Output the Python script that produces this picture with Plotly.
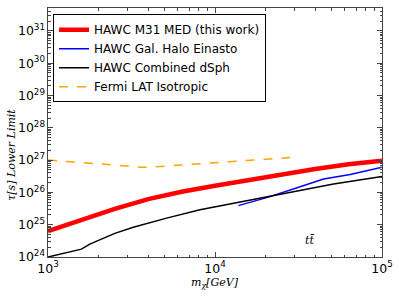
import plotly.graph_objects as go

m31_mass = [1000, 1585, 2512, 3981, 6310, 10000, 15850, 25120, 39810, 63100, 100000]
m31_tau = [6.3e24, 1.4e25, 3.1e25, 6.2e25, 1.05e26, 1.6e26, 2.4e26, 3.6e26, 5.3e26, 7.4e26, 9.6e26]

dsph_mass = [1000, 1585, 1780, 2050, 2512, 3240, 5130, 8130, 12880, 20420, 32360, 51290, 100000]
dsph_tau = [1.0e24, 1.75e24, 2.5e24, 3.5e24, 5.4e24, 8.3e24, 1.6e25, 2.9e25, 4.6e25, 7.4e25, 1.18e26, 1.82e26, 3.1e26]

halo_mass = [13800, 20420, 32360, 44670, 64570, 100000]
halo_tau = [3.9e25, 6.9e25, 1.5e26, 2.6e26, 3.6e26, 6.0e26]

fermi_mass = [1000, 1260, 1585, 2000, 2512, 3162, 3548, 3981, 5012, 6310, 7943, 10000, 12590, 15850, 19950, 25120, 28180]
fermi_tau = [1.0e27, 9.3e26, 8.5e26, 7.7e26, 7.0e26, 6.3e26, 6.0e26, 6.0e26, 6.5e26, 7.1e26, 7.7e26,
             8.3e26, 8.9e26, 9.6e26, 1.05e27, 1.15e27, 1.2e27]

font = "DejaVu Sans"
serif = "DejaVu Serif"
fig = go.Figure()
fig.add_trace(go.Scatter(x=m31_mass, y=m31_tau, mode="lines", name="HAWC M31 MED (this work)",
                         line=dict(color="#ff0000", width=4.5)))
fig.add_trace(go.Scatter(x=halo_mass, y=halo_tau, mode="lines", name="HAWC Gal. Halo Einasto",
                         line=dict(color="#0000ff", width=1.5)))
fig.add_trace(go.Scatter(x=dsph_mass, y=dsph_tau, mode="lines", name="HAWC Combined dSph",
                         line=dict(color="#000000", width=1.5)))
fig.add_trace(go.Scatter(x=fermi_mass, y=fermi_tau, mode="lines", name="Fermi LAT Isotropic",
                         line=dict(color="#ffa500", width=1.5, dash="dash")))

axis_common = dict(showgrid=False, zeroline=False, showline=True, linecolor="#444", linewidth=1,
                   mirror="ticks", ticks="inside", ticklen=5, tickcolor="#444",
                   exponentformat="power", dtick=1, automargin=False,
                   minor=dict(ticks="inside", ticklen=2.5, tickcolor="#444", showgrid=False),
                   tickfont=dict(family=font, size=10, color="black"))

fig.update_xaxes(type="log", range=[3, 5], **axis_common)
fig.update_yaxes(type="log", range=[24, 31.71], **axis_common)

fig.add_annotation(x=0.5, y=-0.105, xref="paper", yref="paper", xanchor="center", yanchor="middle",
                   text="<i>m<sub>χ</sub>[GeV]</i>",
                   showarrow=False, font=dict(family=serif, size=11, color="black"))
fig.add_annotation(x=-0.108, y=0.41, xref="paper", yref="paper", xanchor="center", yanchor="middle",
                   text="<i>τ[s] Lower Limit</i>", textangle=-90,
                   showarrow=False, font=dict(family=serif, size=11, color="black"))
fig.add_annotation(x=4.57, y=24.5, xref="x", yref="y", text="<i>tt̄</i>", showarrow=False,
                   font=dict(family=serif, size=11, color="black"))

fig.update_layout(
    width=399, height=299,
    margin=dict(l=48, r=17, t=8, b=42),
    paper_bgcolor="white", plot_bgcolor="white",
    font=dict(family=font, size=11, color="black"),
    legend=dict(x=0.015, y=0.975, xanchor="left", yanchor="top", bgcolor="white",
                bordercolor="black", borderwidth=1, font=dict(family=font, size=12, color="black"),
                tracegroupgap=0, itemwidth=30),
    showlegend=True,
)

fig.write_html("out.html", post_script="document.body.style.margin='0';",
               config={"displayModeBar": False})
